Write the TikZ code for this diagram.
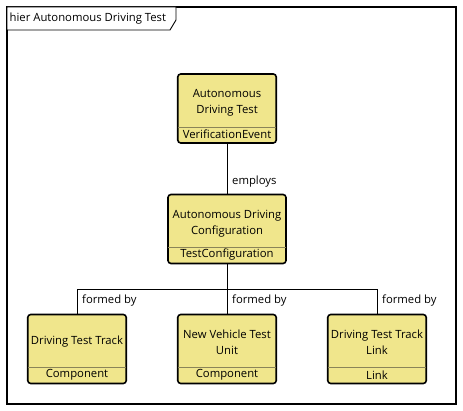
\documentclass[tikz,border=0pt]{standalone}
\usepackage{fontspec}
\setmainfont{Open Sans}
\definecolor{clsfill}{HTML}{F0E68C}
\definecolor{sepcol}{HTML}{8A8458}
\tikzset{
  cls/.style={draw=black, line width=1.6pt, fill=clsfill, rounded corners=3pt, minimum width=98.5pt, minimum height=69pt, inner sep=0pt},
  clswide/.style={cls, minimum width=118pt},
  sepline/.style={draw=sepcol, line width=1pt},
  txt/.style={font=\fontsize{11.3}{16}\selectfont, align=center, inner sep=0pt},
  conn/.style={draw=black, line width=0.9pt},
  lab/.style={font=\fontsize{11.3}{13}\selectfont, anchor=west, inner sep=0pt}
}
\begin{document}
\begin{tikzpicture}[x=1pt,y=-1pt]
\useasboundingbox (0,0) rectangle (463,411);
\fill[white] (0,0) rectangle (463,411);
% frame
\draw[line width=1.6pt] (7,7) rectangle (456,404);
\draw[line width=0.9pt, fill=white] (7,7) -- (176,7) -- (176,20) -- (170,30) -- (7,30) -- cycle;
\node[txt, anchor=west] (framelabel) at (9.5,18.5) {hier Autonomous Driving Test};
% classes
\node[cls] (top) at (227,108.5) {};
\node[clswide] (mid) at (227,229) {};
\node[cls] (bl) at (77,349) {};
\node[cls] (bm) at (227,349) {};
\node[cls] (br) at (377,349) {};
% separators
\foreach \n in {top,mid,bl,bm,br}{
  \draw[sepline] ([xshift=0.8pt,yshift=16.5pt]\n.south west) -- ([xshift=-0.8pt,yshift=16.5pt]\n.south east);
}
% texts
\node[txt] (topname) at (227,103) {Autonomous\\Driving Test};
\node[txt] (toptype) at (227,134.5) {VerificationEvent};
\node[txt] (midname) at (227,223.5) {Autonomous Driving\\Configuration};
\node[txt] (midtype) at (227,254.5) {TestConfiguration};
\node[txt] (blname) at (77,342) {Driving Test Track};
\node[txt] (bltype) at (77,375) {Component};
\node[txt] (bmname) at (227,342) {New Vehicle Test\\Unit};
\node[txt] (bmtype) at (227,375) {Component};
\node[txt] (brname) at (377,342) {Driving Test Track\\Link};
\node[txt] (brtype) at (377,375) {Link};
% connectors
\coordinate (junc) at (227,289);
\draw[conn] (top.south) -- (mid.north);
\draw[conn] (mid.south) -- (junc);
\draw[conn] (bl.north) |- (junc);
\draw[conn] (br.north) |- (junc);
\draw[conn] (bm.north) -- (junc);
% labels
\node[lab] (employs) at (232,182) {employs};
\node[lab] (f1) at (82,301) {formed by};
\node[lab] (f2) at (232,301) {formed by};
\node[lab] (f3) at (382,301) {formed by};
\end{tikzpicture}
\end{document}
